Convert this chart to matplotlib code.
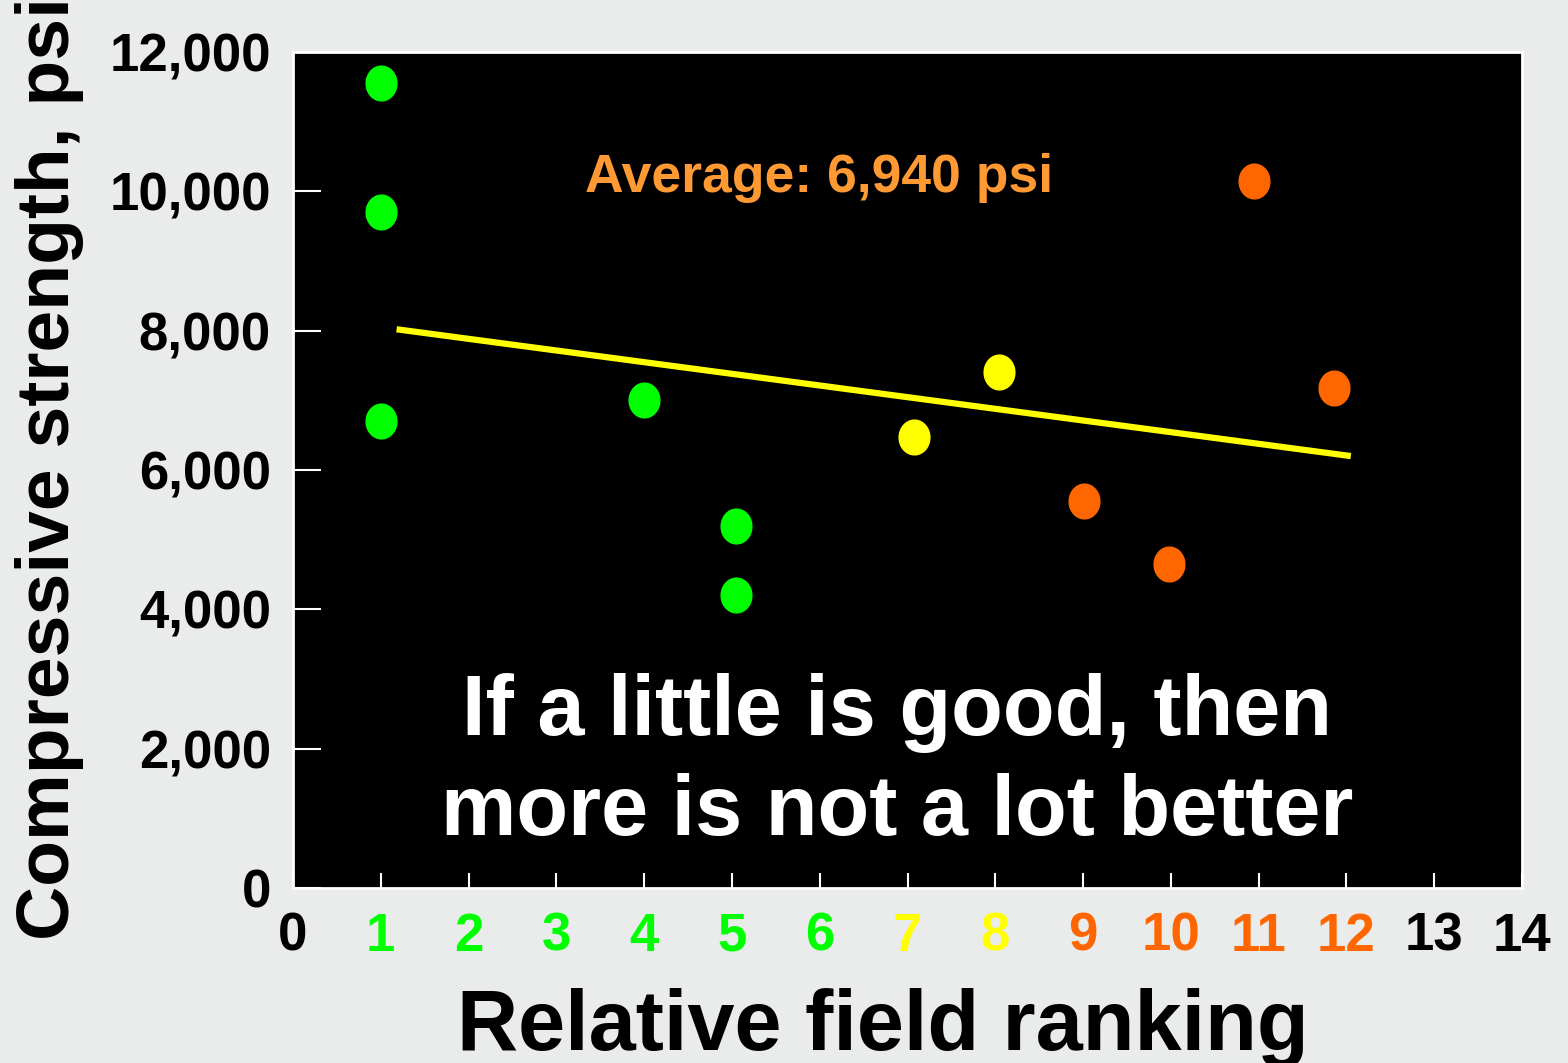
import numpy as np
import matplotlib
matplotlib.use("Agg")
import matplotlib.pyplot as plt
from matplotlib.path import Path
from matplotlib.ticker import FuncFormatter

plt.rcParams['font.family'] = ['Liberation Sans', 'DejaVu Sans']
plt.rcParams['font.weight'] = 'bold'

# data
rank_green = [1, 1, 1, 4, 5.05, 5.05]
psi_green = [11550, 9700, 6700, 7000, 5200, 4200]
rank_yellow = [7.07, 8.04]
psi_yellow = [6480, 7400]
rank_orange = [9.01, 9.98, 10.95, 11.86]
psi_orange = [5560, 4650, 10150, 7180]
trend_x = [1.18, 12.05]
trend_y = [8020, 6200]

x_ticks = list(range(0, 15))
x_tick_colors = ['black'] + ['#00ff00'] * 6 + ['#ffff00'] * 2 + ['#ff6600'] * 4 + ['black'] * 2
y_ticks = [0, 2000, 4000, 6000, 8000, 10000, 12000]

# slightly tall ellipse as marker
t = np.linspace(0, 2 * np.pi, 60)
ell = Path(np.column_stack([0.885 * np.cos(t), np.sin(t)]), closed=True)

fig = plt.figure(figsize=(15.68, 10.63), dpi=100, facecolor='#e9ecea')
ax = fig.add_axes([293 / 1568, 175 / 1063, 1229 / 1568, 836 / 1063])
ax.set_facecolor('black')

ax.plot(trend_x, trend_y, color='#ffff00', lw=4.5, solid_capstyle='butt', zorder=2)
for xs, ys, c in [(rank_green, psi_green, '#00ff00'),
                  (rank_yellow, psi_yellow, '#ffff00'),
                  (rank_orange, psi_orange, '#ff6600')]:
    ax.plot(xs, ys, ls='none', marker=ell, ms=25, color=c, mec=c, zorder=3)

ax.set_xlim(0, 14)
ax.set_ylim(0, 12000)

for s in ax.spines.values():
    s.set_color('white')
    s.set_linewidth(2)

ax.set_yticks(y_ticks)
ax.yaxis.set_major_formatter(FuncFormatter(lambda v, p: '{:,.0f}'.format(v)))
ax.tick_params(axis='y', direction='in', length=20, width=1.5, color='white',
               labelsize=38, pad=16, labelcolor='black')

ax.set_xticks(x_ticks)
ax.set_xticks([1, 13], minor=True)
ax.tick_params(axis='x', which='major', direction='in', length=11, width=1.5,
               color='white', labelsize=38, pad=17)
ax.tick_params(axis='x', which='minor', direction='in', length=19, width=1.5,
               color='white')
for lab, c in zip(ax.get_xticklabels(), x_tick_colors):
    lab.set_color(c)
    lab.set_fontweight('bold')
for lab in ax.get_yticklabels():
    lab.set_fontweight('bold')

ax.text(3.33, 9990, 'Average: 6,940 psi', color='#ff9933', fontsize=38.5,
        fontweight='bold', ha='left', va='baseline')

ax.text(6.88, 2196, 'If a little is good, then', color='white', fontsize=61,
        fontweight='bold', ha='center', va='baseline')
ax.text(6.88, 761, 'more is not a lot better', color='white', fontsize=61,
        fontweight='bold', ha='center', va='baseline')

fig.text(50 / 1568, 123 / 1063, 'Compressive strength, psi', rotation=90,
         ha='center', va='bottom', fontsize=54, fontweight='bold')
fig.text(883 / 1568, 13 / 1063, 'Relative field ranking', ha='center',
         va='baseline', fontsize=61, fontweight='bold')

fig.savefig('out.png', dpi=100, facecolor=fig.get_facecolor())
